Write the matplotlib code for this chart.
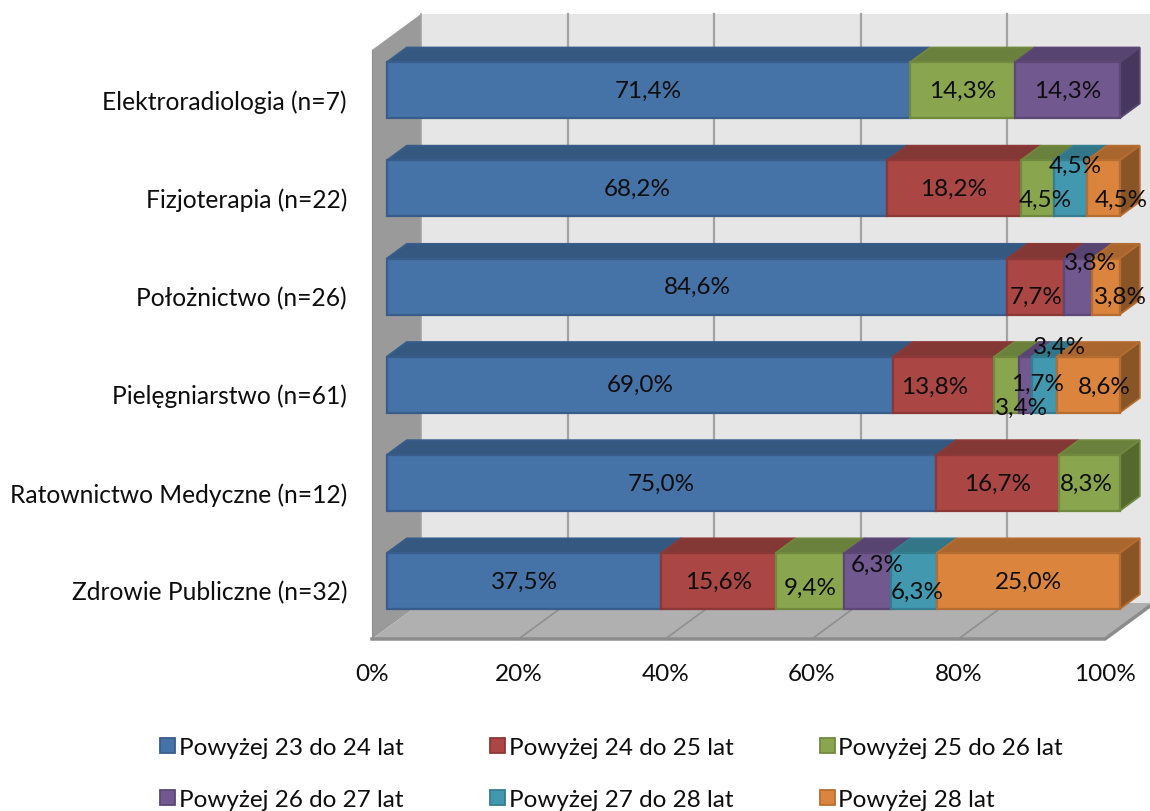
import matplotlib
matplotlib.use("Agg")
import matplotlib.pyplot as plt
from matplotlib.patches import Patch

plt.rcParams["font.family"] = ["Lato", "DejaVu Sans"]

categories = ["Elektroradiologia (n=7)", "Fizjoterapia (n=22)", "Położnictwo (n=26)",
              "Pielęgniarstwo (n=61)", "Ratownictwo Medyczne (n=12)", "Zdrowie Publiczne (n=32)"]
series_names = ["Powyżej 23 do 24 lat", "Powyżej 24 do 25 lat", "Powyżej 25 do 26 lat",
                "Powyżej 26 do 27 lat", "Powyżej 27 do 28 lat", "Powyżej 28 lat"]
s23 = [71.4, 68.2, 84.6, 69.0, 75.0, 37.5]
s24 = [0, 18.2, 7.7, 13.8, 16.7, 15.6]
s25 = [14.3, 4.5, 0, 3.4, 8.3, 9.4]
s26 = [14.3, 0, 3.8, 1.7, 0, 6.3]
s27 = [0, 4.5, 0, 3.4, 0, 6.3]
s28 = [0, 4.5, 3.8, 8.6, 0, 25.0]
all_series = [s23, s24, s25, s26, s27, s28]
x_ticks = [0, 20, 40, 60, 80, 100]

front = ["#4572a7", "#aa4643", "#89a54e", "#71588f", "#4198af", "#db843d"]
top = ["#34587f", "#843836", "#6a803d", "#574470", "#327688", "#a9662f"]
side = ["#2f4f73", "#6f2f2d", "#55692f", "#47375c", "#2a6270", "#8a5526"]
edge = ["#385d8a", "#8c3836", "#71893f", "#5c4776", "#357d91", "#b66d31"]

# label shifts in pixels (row, series) -> right, down
nudge = {(1, 2): (8, 11), (1, 4): (5, -23), (1, 5): (18, 11),
         (2, 1): (1, 10), (2, 3): (13, -24), (2, 5): (15, 10),
         (3, 1): (-9, 2), (3, 2): (15, 23), (3, 3): (12, -1), (3, 4): (15, -38), (3, 5): (16, 2),
         (4, 2): (-3, 0),
         (5, 2): (0, 6), (5, 3): (10, -17), (5, 4): (4, 10)}

W, H = 1150, 812
FS = 17.5
fig = plt.figure(figsize=(W / 100, H / 100), dpi=100)
ax = fig.add_axes([372 / W, 1 - 640 / H, 733 / W, 589 / H])
ax.set_xlim(0, 100)
ax.set_ylim(5.5, -0.5)
ax.patch.set_visible(False)
for s in ax.spines.values():
    s.set_visible(False)

# depth of the 3d box, in axis units
DX = 49 / 733 * 100
DY = 36 / (589 / 6)
D0, D1 = 0.3, 0.71
bar_h = 0.57
bar_shift = 0.02


def proj(x, y, d):
    return x + d * DX, y - d * DY


def face(pts, color, ec=None, lw=1.3, z=2):
    xs = [p[0] for p in pts]
    ys = [p[1] for p in pts]
    ax.fill(xs, ys, facecolor=color, edgecolor=ec if ec else color, linewidth=lw,
            clip_on=False, zorder=z, joinstyle="miter")


y_lo, y_hi = 5.5, -0.5
# walls and floor
face([proj(0, y_hi, 1), proj(100, y_hi, 1), proj(100, y_lo, 1), proj(0, y_lo, 1)], "#e6e6e6", lw=0, z=0)
face([proj(0, y_hi, 0), proj(0, y_hi, 1), proj(0, y_lo, 1), proj(0, y_lo, 0)], "#9a9a9a", lw=0, z=0.5)
face([proj(0, y_lo, 0), proj(0, y_lo, 1), proj(100, y_lo, 1), proj(100, y_lo, 0)], "#b0b0b0", lw=0, z=0.5)
ax.plot([0, 100, 100 + DX], [y_lo, y_lo, y_lo - DY], color="#8c8c8c", lw=2.5, clip_on=False, zorder=0.7,
        solid_joinstyle="miter")
ax.plot([0, 0], [y_hi, y_lo], color="#8c8c8c", lw=0.8, clip_on=False, zorder=0.7)
for t in x_ticks[1:]:
    bx, by = proj(t, y_hi, 1)
    ex, ey = proj(t, y_lo, 1)
    ax.plot([bx, ex], [by, ey], color="#a3a3a3", lw=1.6, clip_on=False, zorder=0.6)
    ax.plot([t, ex], [y_lo, ey], color="#8f8f8f", lw=1.2, clip_on=False, zorder=0.6)
bx, by = proj(0, y_hi, 1)
ex, ey = proj(0, y_lo, 1)
ax.plot([bx, ex], [by, ey], color="#a3a3a3", lw=1.2, clip_on=False, zorder=0.6)

# stacked bars drawn as boxes
for row in range(len(categories)):
    vals = [s[row] for s in all_series]
    total = sum(vals)
    left = 0
    last = max(i for i, v in enumerate(vals) if v > 0)
    y0 = row + bar_shift - bar_h / 2
    y1 = row + bar_shift + bar_h / 2
    for i, v in enumerate(vals):
        if v == 0:
            continue
        w = v / total * 100
        right = left + w
        face([proj(left, y0, D0), proj(left, y0, D1), proj(right, y0, D1), proj(right, y0, D0)],
             top[i], edge[i], z=2)
        if i == last:
            face([proj(right, y0, D0), proj(right, y0, D1), proj(right, y1, D1), proj(right, y1, D0)],
                 side[i], edge[i], z=2)
        face([proj(left, y0, D0), proj(right, y0, D0), proj(right, y1, D0), proj(left, y1, D0)],
             front[i], edge[i], lw=1.6, z=3)
        cx, cy = proj(left + w / 2, row + bar_shift, D0)
        dx, dy = nudge.get((row, i), (0, 0))
        ax.annotate(f"{v:.1f}%".replace(".", ","), (cx, cy), xytext=(dx, -dy), textcoords="offset pixels",
                    ha="center", va="center", fontsize=FS, color="#0d0d0d", zorder=5, annotation_clip=False)
        left = right

ax.set_yticks(range(len(categories)))
ax.set_yticklabels(categories, fontsize=17.7, color="#0d0d0d")
ax.set_xticks(x_ticks)
ax.set_xticklabels([f"{t}%" for t in x_ticks], fontsize=FS, color="#0d0d0d")
ax.tick_params(axis="y", length=0, pad=18)
ax.tick_params(axis="x", length=0, pad=17)

handles = [Patch(facecolor=front[i], edgecolor=edge[i], linewidth=1.3) for i in range(6)]
order = [0, 3, 1, 4, 2, 5]
fig.legend([handles[i] for i in order], [series_names[i] for i in order], ncol=3,
           loc="upper left", bbox_to_anchor=(143 / W, 1 - 721 / H), frameon=False, fontsize=FS,
           handlelength=0.62, handleheight=0.62, handletextpad=0.16, columnspacing=3.54,
           labelspacing=1.28, borderpad=0.2, labelcolor="#0d0d0d")

fig.savefig("out.png", dpi=100)
